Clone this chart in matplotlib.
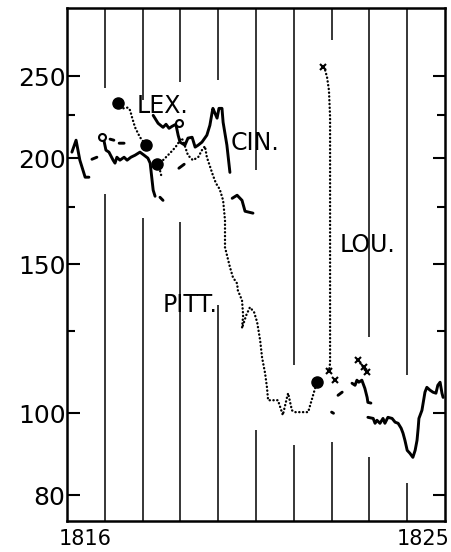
import numpy as np
import matplotlib
matplotlib.use("Agg")
import matplotlib.pyplot as plt
from matplotlib.ticker import NullFormatter, FixedLocator

nan = np.nan

# ---- data (year, index value) ----
# Cincinnati (solid) - pieces separated by NaN
cin_year = [1816.13, 1816.24, 1816.34, 1816.48, 1816.58, nan,
            1816.98, 1817.03, 1817.11, 1817.22, 1817.27, 1817.32, 1817.40, 1817.51, 1817.59,
            1817.69, 1817.80, 1817.93, 1818.04, 1818.14, 1818.20, 1818.28, 1818.33, nan,
            1818.46, 1818.54, nan,
            1818.28, 1818.41, 1818.54, 1818.62, 1818.70, 1818.78, 1818.88, 1818.94, 1818.99,
            1819.12, 1819.20, 1819.31, 1819.39, 1819.47, 1819.57, 1819.70, 1819.78, 1819.84,
            1819.86, 1819.97, 1820.02, 1820.10, 1820.13, 1820.23, 1820.31, nan,
            1820.37, 1820.50, 1820.63, 1820.71, 1820.92, nan,
            1823.54, 1823.62, 1823.67, 1823.72, 1823.80, 1823.88, 1823.94, 1823.96, 1824.04, nan,
            1823.96, 1824.10, 1824.15, 1824.20, 1824.28, 1824.36, 1824.41, 1824.49, 1824.60,
            1824.68, 1824.76, 1824.84, 1824.89, 1824.94, 1825.00, 1825.07, 1825.15, 1825.21,
            1825.26, 1825.29, 1825.31, 1825.39, 1825.47, 1825.52, 1825.60, 1825.68, 1825.76,
            1825.81, 1825.87, 1825.92, 1825.95]
cin_val = [203.4, 210.1, 199.0, 190.0, 190.0, nan,
           209.6, 204.5, 203.4, 199.0, 197.4, 200.6, 199.0, 200.6, 199.0,
           200.6, 201.7, 203.4, 201.7, 200.1, 197.4, 183.4, 180.4, nan,
           179.9, 178.4, nan,
           224.8, 220.0, 217.6, 219.4, 217.0, 218.2, 219.4, 213.0, 209.0,
           207.3, 211.3, 211.8, 206.2, 207.3, 209.0, 213.0, 218.8, 226.7,
           229.1, 223.1, 229.1, 229.1, 220.6, 207.3, 192.5, nan,
           179.4, 180.9, 178.4, 173.2, 172.3, nan,
           108.5, 107.9, 109.4, 108.8, 109.4, 107.0, 104.4, 103.0, 102.8, nan,
           98.9, 98.6, 97.3, 98.1, 97.3, 98.6, 97.3, 98.9, 98.6,
           97.6, 97.3, 96.0, 94.7, 92.9, 90.4, 89.7, 88.7, 90.4,
           92.9, 96.0, 98.6, 100.8, 105.9, 107.3, 106.5, 105.9, 105.6,
           107.9, 108.8, 105.6, 104.4]

# Lexington (sparse dashes with open circles)
lex_dash_year = [1816.66, 1816.79, nan, 1817.14, 1817.24, nan, 1817.38, 1817.51, nan,
                 1818.96, 1819.10, nan, 1823.17, 1823.28, nan, 1823.00, 1823.05]
lex_dash_val = [199.5, 200.6, nan, 210.7, 210.1, nan, 208.4, 208.4, nan,
                194.7, 196.8, nan, 105.0, 105.9, nan, 100.3, 100.0]
lex_circle_year = [1816.93, 1818.96]
lex_circle_val = [211.8, 220.0]

# Lexington dotted run (starts/ends with a dot)
lexd_year = [1817.35, 1817.48, 1817.61, 1817.67, 1817.72, 1817.80, 1817.93, 1818.09]
lexd_val = [232.3, 229.1, 229.6, 227.9, 223.6, 217.6, 211.8, 207.3]

# Pittsburgh (dotted)
pitt_year = [1818.38, 1818.54, 1818.67, 1818.80, 1818.91, 1819.02, 1819.07, 1819.12, 1819.20,
             1819.33, 1819.47, 1819.57, 1819.65, 1819.70, 1819.78, 1819.86, 1819.94, 1820.04,
             1820.13, 1820.18, 1820.18, 1820.31, 1820.39, 1820.50, 1820.52, 1820.63, 1820.66,
             1820.63, 1820.74, 1820.84, 1820.95, 1821.03, 1821.11, 1821.16, 1821.24, 1821.29,
             1821.32, 1821.58, 1821.71, 1821.82, 1821.85, 1821.95, 1822.03, 1822.38, 1822.61]
pitt_val = [196.8, 199.0, 201.7, 204.5, 207.3, 211.3, 210.1, 206.7, 201.7,
            199.0, 200.6, 204.5, 206.7, 200.6, 195.8, 191.0, 186.9, 183.9,
            178.4, 169.0, 157.0, 148.8, 144.7, 142.3, 139.7, 135.9, 130.5,
            126.0, 130.5, 133.4, 131.6, 128.1, 121.9, 116.4, 111.5, 107.3,
            103.6, 103.6, 99.5, 104.4, 105.6, 100.8, 100.3, 100.3, 108.8]
pitt_branch_year = [1818.38, 1818.46, 1818.51]
pitt_branch_val = [196.8, 193.6, 189.5]

# Louisville (dotted with crosses)
lou_year = [1822.77, 1822.83, 1822.88, 1822.93, 1822.96, 1822.96, 1822.96, 1822.96, 1822.93, nan,
            1823.70, 1823.80, 1823.94]
lou_val = [256.2, 254.1, 249.3, 240.6, 223.6, 186.9, 142.3, 114.6, 112.1, nan,
           115.5, 113.9, 111.8]
lou_cross_year = [1822.77, 1822.93, 1823.09, 1823.70, 1823.86, 1823.94]
lou_cross_val = [256.2, 112.1, 109.4, 115.5, 113.3, 111.8]

# vertical year lines, with the breaks left around the curves
grid_years = [1817, 1818, 1819, 1820, 1821, 1822, 1823, 1824, 1825]
grid_gap_hi = [242.0, 234.2, 245.9, 247.3, 193.6, 113.9, 275.6, 122.9, 110.9]
grid_gap_lo = [181.4, 169.9, 168.1, 134.1, 95.5, 91.7, 92.4, 88.7, 82.7]

y_major = [80, 100, 150, 200, 250]
y_minor = [125, 175, 225]
x_label_pos = [1816.48, 1825.42]
x_labels = ["1816", "1825"]

labels = ["LEX.", "CIN.", "PITT.", "LOU."]
label_year = [1817.85, 1820.33, 1818.54, 1823.22]
label_val = [226.1, 204.5, 131.6, 154.9]

# ---- figure ----
fig = plt.figure(figsize=(4.52, 5.52), dpi=100)
ax = fig.add_axes([67 / 452, 31 / 552, 378 / 452, 513 / 552])
ax.set_yscale("log")
ax.set_xlim(1816, 1826)
ax.set_ylim(74.6, 301)

ymin, ymax = ax.get_ylim()
ax.vlines(grid_years, grid_gap_hi, ymax, color="black", lw=1.1)
ax.vlines(grid_years, ymin, grid_gap_lo, color="black", lw=1.1)

dot = dict(color="black", lw=1.7, linestyle=(0, (0.1, 1.5)), dash_capstyle="round")

ax.plot(cin_year, cin_val, color="black", lw=2.1, solid_capstyle="round", solid_joinstyle="round")
ax.plot(lex_dash_year, lex_dash_val, color="black", lw=2.1, solid_capstyle="round")
ax.plot(lex_circle_year, lex_circle_val, "o", ms=5, mfc="white", mec="black", mew=1.5)
ax.plot(lexd_year, lexd_val, **dot)
ax.plot([lexd_year[0], lexd_year[-1]], [lexd_val[0], lexd_val[-1]], "o", color="black", ms=8)
ax.plot(pitt_year, pitt_val, **dot)
ax.plot(pitt_branch_year, pitt_branch_val, **dot)
ax.plot([pitt_year[0], pitt_year[-1]], [pitt_val[0], pitt_val[-1]], "o", color="black", ms=8)
ax.plot(lou_year, lou_val, **dot)
ax.plot(lou_cross_year, lou_cross_val, "x", color="black", ms=5, mew=1.5)

for t, xx, yy in zip(labels, label_year, label_val):
    ax.text(xx, yy, t, fontsize=17, va="baseline", ha="left", family="DejaVu Sans")

for s in ax.spines.values():
    s.set_linewidth(1.8)

ax.yaxis.set_major_locator(FixedLocator(y_major))
ax.yaxis.set_minor_locator(FixedLocator(y_minor))
ax.set_yticklabels([str(v) for v in y_major])
ax.yaxis.set_minor_formatter(NullFormatter())
ax.tick_params(axis="y", which="major", direction="in", length=9, width=1.5,
               labelsize=18, pad=1, right=True)
ax.tick_params(axis="y", which="minor", direction="in", length=6, width=1.5, right=True)

ax.set_xticks(x_label_pos)
ax.set_xticklabels(x_labels)
ax.xaxis.set_minor_locator(FixedLocator([]))
ax.tick_params(axis="x", length=0, labelsize=15, pad=6)

fig.savefig("out.png", dpi=100, facecolor="white")
